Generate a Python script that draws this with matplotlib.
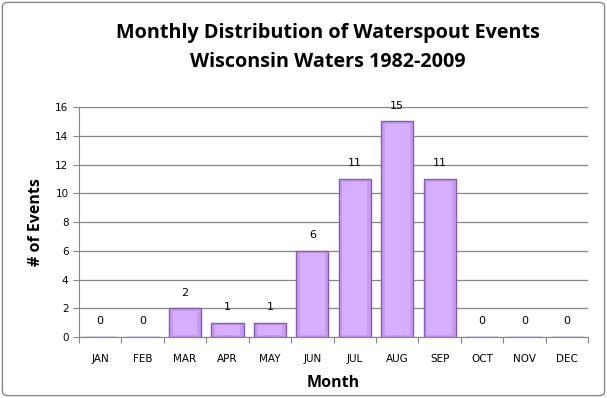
import matplotlib
matplotlib.use("Agg")
import matplotlib.pyplot as plt
from matplotlib.patches import FancyBboxPatch

months = ["JAN", "FEB", "MAR", "APR", "MAY", "JUN", "JUL", "AUG", "SEP", "OCT", "NOV", "DEC"]
events = [0, 0, 2, 1, 1, 6, 11, 15, 11, 0, 0, 0]
yticks = [0, 2, 4, 6, 8, 10, 12, 14, 16]

fig = plt.figure(figsize=(6.07, 3.98), dpi=100)
ax = fig.add_axes([0.130, 0.153, 0.839, 0.578])

x = range(len(months))
ax.bar(x, events, width=0.76, color="#c99af5", edgecolor="#7f5fa6", linewidth=1.0, zorder=3)
# light inner highlight to fake the bevel
ax.bar(x, [max(v - 0.3, 0) for v in events], width=0.58, bottom=0.12, color="#d6aeff",
       linewidth=0, zorder=4)

for i, v in enumerate(events):
    ax.text(i, v + 0.75, str(v), ha="center", va="bottom", fontsize=8, family="DejaVu Sans", zorder=5)

ax.set_xlim(-0.5, 11.5)
ax.set_ylim(0, 16)
ax.set_yticks(yticks)
ax.set_xticks([i - 0.5 for i in range(13)], minor=False)
ax.set_xticklabels([])
ax.set_xticks(list(x), minor=True)
ax.set_xticklabels(months, minor=True, fontsize=7.5)
ax.tick_params(axis="x", which="minor", length=0, pad=12)
ax.tick_params(axis="x", which="major", length=4, color="#868686", direction="out")
ax.tick_params(axis="y", length=4, color="#868686", direction="out", labelsize=7.5)
ax.grid(axis="y", color="#868686", linewidth=0.9, zorder=0)
for s in ["top", "right"]:
    ax.spines[s].set_visible(False)
for s in ["left", "bottom"]:
    ax.spines[s].set_color("#868686")

ax.set_xlabel("Month", fontsize=11.5, fontweight="bold", family="Open Sans", labelpad=8)
ax.set_ylabel("# of Events", fontsize=11.5, fontweight="bold", family="Open Sans", labelpad=8)

fig.text(0.54, 0.917, "Monthly Distribution of Waterspout Events", ha="center", va="center",
         fontsize=14.2, fontweight="bold", family="Open Sans")
fig.text(0.54, 0.845, "Wisconsin Waters 1982-2009", ha="center", va="center",
         fontsize=14.2, fontweight="bold", family="Open Sans")

border = FancyBboxPatch((0.004, 0.006), 0.992, 0.988, boxstyle="round,pad=0,rounding_size=0.01",
                        transform=fig.transFigure, fill=False, edgecolor="#868686", linewidth=1.0)
fig.patches.append(border)

fig.savefig("out.png", dpi=100)
